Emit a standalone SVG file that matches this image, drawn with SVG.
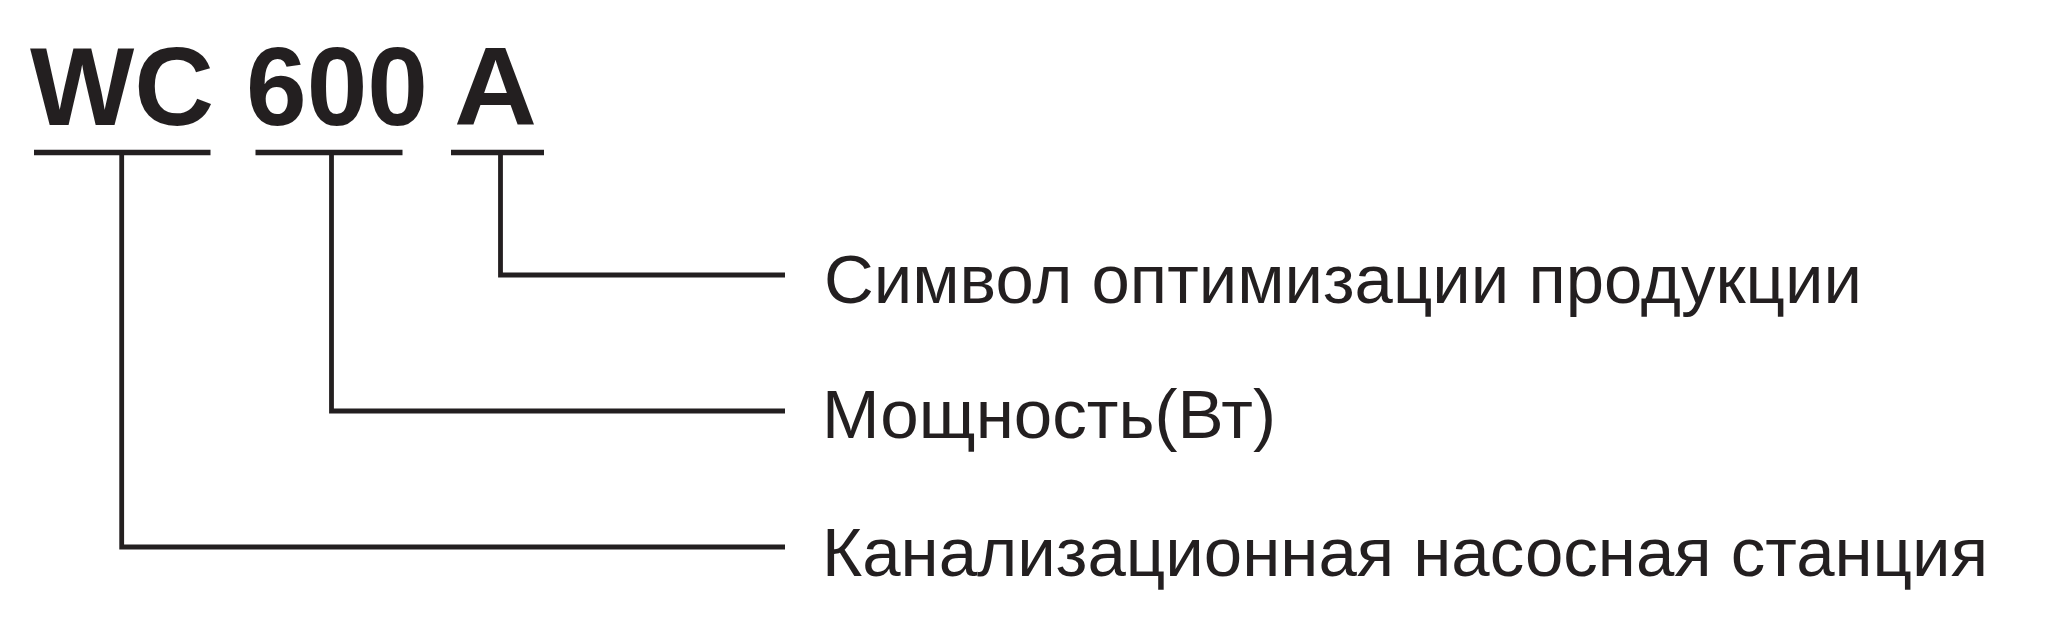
<svg xmlns="http://www.w3.org/2000/svg" width="2047" height="638" viewBox="0 0 2047 638">
<style>
.code{font-family:"Liberation Sans",Arial,sans-serif;font-weight:bold;font-size:112px;fill:#231f20}
.lbl{font-family:"Liberation Sans",Arial,sans-serif;font-size:68px;fill:#231f20}
.ul{stroke:#231f20;stroke-width:5.5;fill:none}
.conn{stroke:#231f20;stroke-width:4.8;fill:none}
</style>
<rect width="2047" height="638" fill="#ffffff"/>
<g id="code-WC">
<text class="code" x="30" y="125" textLength="184" lengthAdjust="spacingAndGlyphs">WC</text>
<line class="ul" x1="34" y1="152.5" x2="210.5" y2="152.5"/>
</g>
<g id="code-600">
<text class="code" x="246" y="125" textLength="182" lengthAdjust="spacingAndGlyphs">600</text>
<line class="ul" x1="255.5" y1="152.5" x2="402.5" y2="152.5"/>
</g>
<g id="code-A">
<text class="code" x="454" y="125" textLength="83" lengthAdjust="spacingAndGlyphs">A</text>
<line class="ul" x1="451" y1="152.5" x2="544" y2="152.5"/>
</g>
<g id="connectors">
<polyline class="conn" points="500.5,152.5 500.5,275 785,275"/>
<polyline class="conn" points="331.5,152.5 331.5,411 785,411"/>
<polyline class="conn" points="121.7,152.5 121.7,547 785,547"/>
</g>
<g id="label-symbol">
<text class="lbl" x="824" y="303" textLength="1038" lengthAdjust="spacingAndGlyphs">Символ оптимизации продукции</text>
</g>
<g id="label-power">
<text class="lbl" x="822" y="438" textLength="454" lengthAdjust="spacingAndGlyphs">Мощность(Вт)</text>
</g>
<g id="label-station">
<text class="lbl" x="822" y="576" textLength="1166" lengthAdjust="spacingAndGlyphs">Канализационная насосная станция</text>
</g>
</svg>
